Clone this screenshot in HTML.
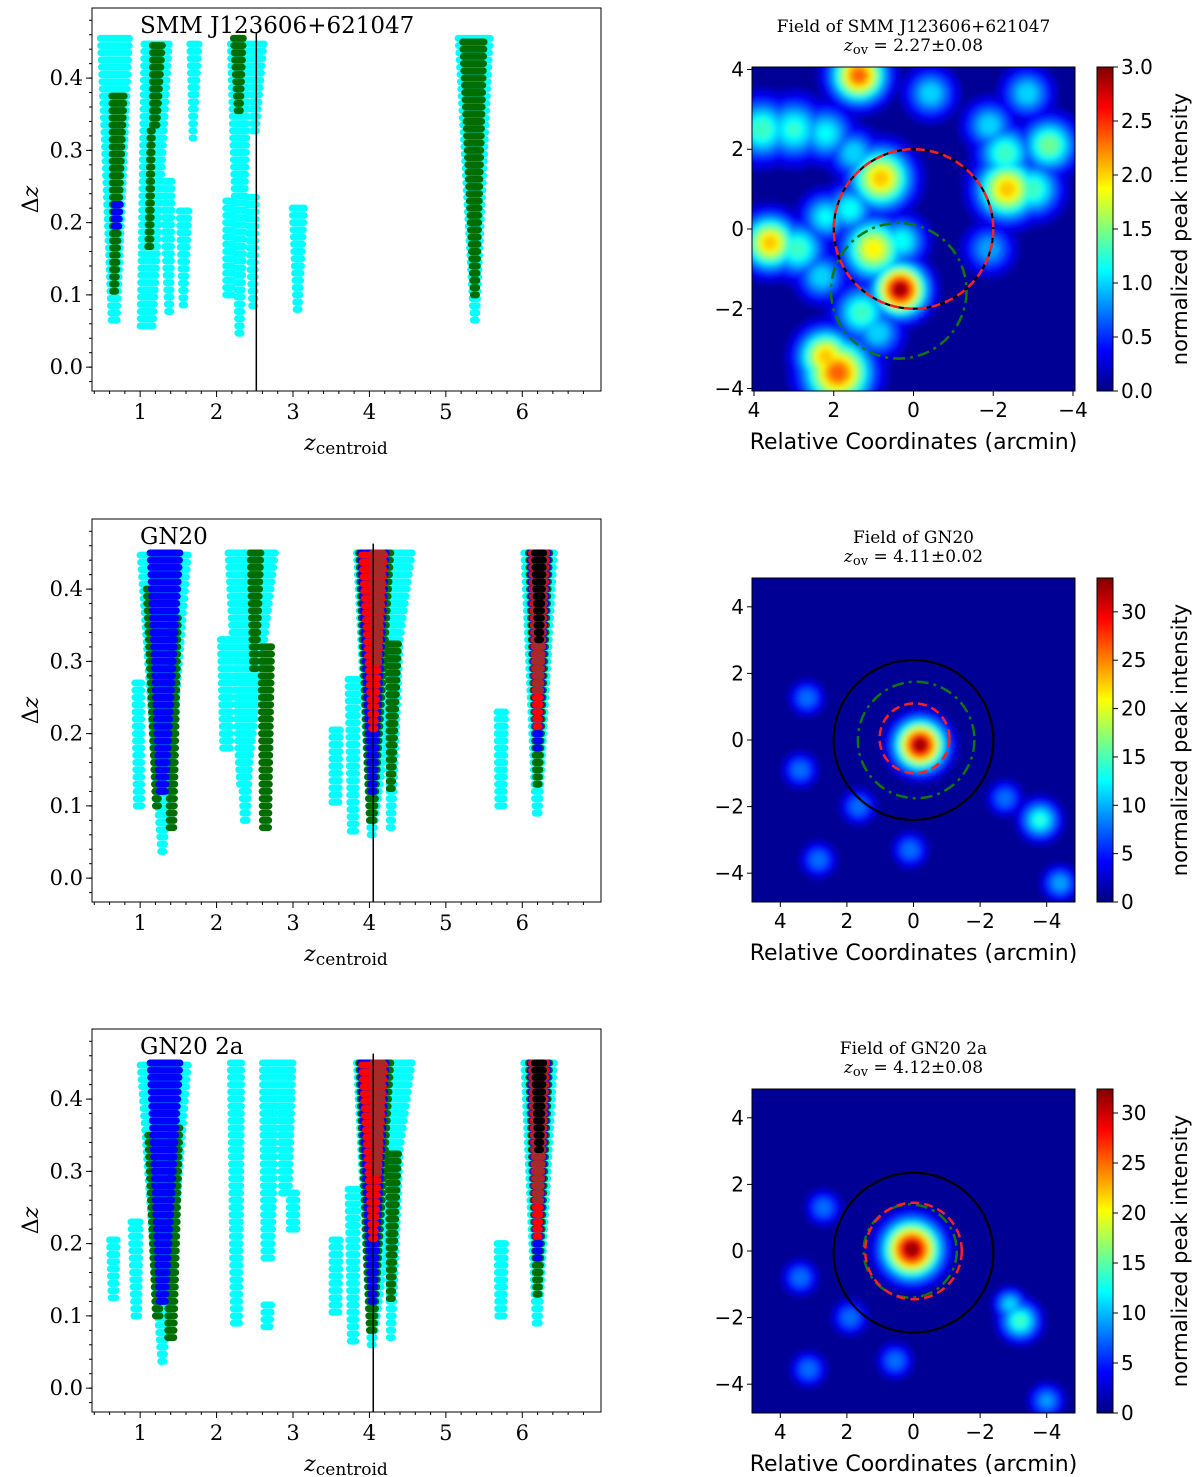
<!DOCTYPE html>
<html><head><meta charset="utf-8"><style>
html,body{margin:0;padding:0;background:#fff;}
svg{display:block;}
.serif{font-family:"DejaVu Serif","Liberation Serif",serif;}
.sans{font-family:"DejaVu Sans","Liberation Sans",sans-serif;}
</style></head><body>
<svg id="fig" width="1200" height="1477" viewBox="0 0 1200 1477" xmlns="http://www.w3.org/2000/svg">
<defs>
<filter id="blur" x="-10%" y="-10%" width="120%" height="120%"><feGaussianBlur stdDeviation="3"/></filter>
<linearGradient id="jetgrad" x1="0" y1="1" x2="0" y2="0">
<stop offset="0" stop-color="#000080"/><stop offset="0.125" stop-color="#0000ff"/><stop offset="0.375" stop-color="#00ffff"/><stop offset="0.625" stop-color="#ffff00"/><stop offset="0.875" stop-color="#ff0000"/><stop offset="1" stop-color="#800000"/>
</linearGradient>
</defs>
</svg>
<script>
const panel1Segments = [
 [0.48,0.86,0.62,0.70,0.45,0.065,'c'],[0.63,0.79,0.64,0.68,0.375,0.105,'g'],[0.66,0.74,0.66,0.72,0.225,0.195,'b'],
 [1.05,1.38,1.00,1.17,0.45,0.057,'c'],[1.29,1.42,1.36,1.40,0.26,0.077,'c'],[1.51,1.64,1.55,1.58,0.217,0.086,'c'],
 [1.65,1.77,1.68,1.70,0.45,0.317,'c'],[1.16,1.29,1.16,1.22,0.45,0.335,'g'],[1.13,1.16,1.10,1.14,0.33,0.167,'g'],
 [2.18,2.43,2.28,2.32,0.45,0.047,'c'],[2.12,2.22,2.12,2.20,0.23,0.10,'c'],[2.43,2.62,2.47,2.52,0.45,0.327,'c'],
 [2.40,2.52,2.46,2.50,0.23,0.085,'c'],[2.22,2.35,2.27,2.31,0.45,0.355,'g'],[2.99,3.15,3.04,3.08,0.215,0.08,'c'],
 [5.16,5.58,5.36,5.40,0.45,0.065,'c'],[5.22,5.50,5.36,5.40,0.45,0.10,'g']
];
const panel2Segments = [
 [1.00,1.63,1.27,1.31,0.45,0.037,'c'],[0.93,1.02,0.95,1.02,0.27,0.10,'c'],[1.13,1.52,1.25,1.33,0.45,0.12,'b'],
 [1.38,1.50,1.38,1.44,0.36,0.07,'g'],[1.08,1.15,1.20,1.24,0.40,0.10,'g'],
 [2.15,2.77,2.30,2.40,0.45,0.13,'c'],[2.05,2.20,2.08,2.18,0.33,0.18,'c'],[2.30,2.45,2.35,2.40,0.20,0.08,'c'],
 [2.44,2.58,2.47,2.52,0.45,0.29,'g'],[2.58,2.72,2.60,2.68,0.32,0.07,'g'],
 [3.83,4.56,4.01,4.05,0.45,0.06,'c'],[3.51,3.62,3.51,3.60,0.20,0.105,'c'],[3.72,3.85,3.75,3.82,0.275,0.065,'c'],
 [4.25,4.40,4.26,4.30,0.32,0.07,'c'],[3.86,4.28,4.00,4.06,0.45,0.08,'g'],[4.25,4.38,4.26,4.30,0.32,0.124,'g'],
 [3.88,4.22,4.02,4.06,0.45,0.12,'b'],[3.90,4.20,4.03,4.07,0.45,0.207,'r'],[4.04,4.18,4.06,4.12,0.45,0.30,'d'],
 [5.67,5.78,5.68,5.76,0.23,0.10,'c'],[6.02,6.42,6.17,6.22,0.45,0.09,'c'],[6.08,6.36,6.18,6.22,0.45,0.13,'g'],
 [6.10,6.34,6.18,6.22,0.45,0.18,'b'],[6.12,6.32,6.18,6.22,0.45,0.21,'r'],[6.14,6.30,6.18,6.24,0.45,0.26,'d'],
 [6.16,6.28,6.20,6.24,0.45,0.33,'k']
];
const panel3Segments = [
 [1.00,1.63,1.27,1.31,0.45,0.037,'c'],[0.88,1.00,0.92,0.98,0.23,0.10,'c'],[0.60,0.70,0.62,0.68,0.21,0.125,'c'],
 [1.13,1.52,1.25,1.33,0.45,0.12,'b'],[1.38,1.52,1.36,1.44,0.36,0.07,'g'],[1.10,1.18,1.20,1.26,0.35,0.10,'g'],
 [2.18,2.33,2.22,2.30,0.45,0.09,'c'],[2.60,2.80,2.62,2.72,0.45,0.18,'c'],[2.80,3.00,2.85,2.95,0.45,0.27,'c'],
 [2.95,3.05,2.95,3.05,0.27,0.22,'c'],[2.62,2.72,2.62,2.70,0.12,0.085,'c'],
 [3.83,4.56,4.01,4.05,0.45,0.06,'c'],[3.51,3.62,3.51,3.60,0.20,0.105,'c'],[3.72,3.85,3.75,3.82,0.275,0.065,'c'],
 [4.25,4.40,4.26,4.30,0.32,0.07,'c'],[3.86,4.28,4.00,4.06,0.45,0.08,'g'],[4.25,4.38,4.26,4.30,0.32,0.124,'g'],
 [3.88,4.22,4.02,4.06,0.45,0.12,'b'],[3.90,4.20,4.03,4.07,0.45,0.207,'r'],[4.04,4.18,4.06,4.12,0.45,0.30,'d'],
 [5.67,5.78,5.68,5.76,0.20,0.10,'c'],[6.02,6.42,6.17,6.22,0.45,0.09,'c'],[6.08,6.36,6.18,6.22,0.45,0.13,'g'],
 [6.10,6.34,6.18,6.22,0.45,0.18,'b'],[6.12,6.32,6.18,6.22,0.45,0.21,'r'],[6.14,6.30,6.18,6.24,0.45,0.26,'d'],
 [6.16,6.28,6.20,6.24,0.45,0.33,'k']
];
const panelTitles = ['SMM J123606+621047','GN20','GN20 2a'];
const vlineZ = [2.52, 4.05, 4.05];
const xTickLabels = [1,2,3,4,5,6];
const yTickLabels = [0.0,0.1,0.2,0.3,0.4];

const hm1X=[1.37,-0.43,-2.85,3.8,3.0,2.2,1.5,0.82,-2.35,-3.4,-2.3,-3.0,-1.9,3.6,2.9,2.2,1.0,0.3,0.33,1.3,1.9,2.2,-1.9,1.6,2.3,0.9];
const hm1Y=[3.85,3.4,3.4,2.5,2.5,2.4,1.9,1.27,1.0,2.1,1.9,1.0,2.6,-0.35,-0.5,0.3,-0.5,-0.3,-1.52,-2.1,-3.6,-3.2,-0.5,0.5,-1.2,-2.6];
const hm1S=[0.45,0.4,0.4,0.5,0.5,0.45,0.4,0.5,0.5,0.45,0.45,0.45,0.4,0.45,0.45,0.4,0.5,0.4,0.42,0.45,0.55,0.45,0.4,0.4,0.4,0.4];
const hm1P=[0.8,0.35,0.35,0.45,0.42,0.38,0.35,0.7,0.7,0.5,0.45,0.45,0.35,0.7,0.45,0.38,0.65,0.4,1.0,0.45,0.8,0.7,0.3,0.4,0.35,0.35];
const hm2X=[-0.2,3.2,3.4,1.65,2.85,0.1,-2.75,-3.8,-4.4];
const hm2Y=[-0.15,1.26,-0.9,-2.0,-3.6,-3.3,-1.75,-2.4,-4.3];
const hm2S=[0.48,0.33,0.33,0.33,0.33,0.33,0.33,0.38,0.33];
const hm2P=[1.0,0.25,0.25,0.25,0.25,0.25,0.25,0.42,0.3];
const hm3X=[0.05,2.7,3.4,1.9,3.15,0.55,-3.2,-2.9,-4.0];
const hm3Y=[0.05,1.3,-0.8,-2.0,-3.55,-3.3,-2.1,-1.6,-4.5];
const hm3S=[0.55,0.33,0.33,0.33,0.33,0.33,0.38,0.3,0.33];
const hm3P=[1.0,0.25,0.25,0.25,0.25,0.25,0.45,0.35,0.28];
const cbarTicks1=[0.0,0.5,1.0,1.5,2.0,2.5,3.0];
const cbarTicks2=[0,5,10,15,20,25,30];
const cbarTicks3=[0,5,10,15,20,25,30];
const hmTitles=['Field of SMM J123606+621047','Field of GN20','Field of GN20 2a'];
const hmZov=['2.27±0.08','4.11±0.02','4.12±0.08'];

const NS='http://www.w3.org/2000/svg';
const svg=document.getElementById('fig');
function mk(tag,attrs,parent){const e=document.createElementNS(NS,tag);for(const k in attrs)e.setAttribute(k,attrs[k]);(parent||svg).appendChild(e);return e;}
const COL={c:'#00ffff',g:'#006d00',b:'#0000ff',r:'#ff0000',d:'#a52a2a',k:'#000000'};
const ORDER=['c','g','b','r','d','k'];

function scatterPanel(i,segs,top){
  const X0=92,X1=601,Y0=top,Y1=top+383;
  const zmin=0.37,zmax=7.03,dmin=-0.033,dmax=0.497;
  const px=z=>X0+(z-zmin)/(zmax-zmin)*(X1-X0);
  const py=d=>Y1-(d-dmin)/(dmax-dmin)*(Y1-Y0);
  const g=mk('g',{});
  
  
  const marks=mk('g',{},g);
  
  
  ORDER.forEach(c=>{
    segs.filter(s=>s[6]===c).forEach(s=>{
      const [tl,tr,bl,br,dt,db]=s;
      const n=Math.round((dt-db)/0.01);
      for(let k=0;k<=n;k++){
        const d=db+k*0.01, t=n?k/n:1;
        const zl=bl+t*(tl-bl), zr=br+t*(tr-br);
        const r=mk('rect',{x:px(zl)-3.5,y:py(d)-3.5,width:px(zr)-px(zl)+7,height:7,rx:3.5,fill:COL[c]},marks);
        
        
      }
    });
  });
  const vl=mk('line',{x1:px(vlineZ[i]),x2:px(vlineZ[i]),y1:py(0.463),y2:Y1,stroke:'#000','stroke-width':1.5},g);
  
  
  const fr=mk('rect',{x:X0,y:Y0,width:X1-X0,height:Y1-Y0,fill:'none',stroke:'#000','stroke-width':1},g);
  
  
  for(let z=0.4;z<=7.0;z+=0.2){const x=px(z);const maj=Math.abs(z-Math.round(z))<0.01;mk('line',{x1:x,x2:x,y1:Y1,y2:Y1+(maj?6:3),stroke:'#000'},g);}
  xTickLabels.forEach(v=>{const t=mk('text',{x:px(v),y:Y1+28,'text-anchor':'middle','font-size':21,class:'serif'},g);t.textContent=v;
    });
  for(let d=-0.02;d<=0.49;d+=0.02){mk('line',{x1:X0,x2:X0-3,y1:py(d),y2:py(d),stroke:'#000'},g);}
  yTickLabels.forEach(v=>{mk('line',{x1:X0,x2:X0-6,y1:py(v),y2:py(v),stroke:'#000'},g);
    const t=mk('text',{x:X0-9,y:py(v)+7,'text-anchor':'end','font-size':21,class:'serif'},g);t.textContent=v.toFixed(1);
    });
  const xl=mk('text',{x:346,y:Y1+59,'text-anchor':'middle','font-size':22,class:'serif','font-style':'italic'},g);
  xl.innerHTML='z<tspan font-size="17" font-style="normal" dy="4">centroid</tspan>';
  
  const yl=mk('text',{x:0,y:0,transform:`translate(38,${(Y0+Y1)/2}) rotate(-90)`,'text-anchor':'middle','font-size':22,class:'serif'},g);
  yl.innerHTML='Δ<tspan font-style="italic">z</tspan>';
  
  const tt=mk('text',{x:140,y:Y0+25,'font-size':23,class:'serif'},g);tt.textContent=panelTitles[i];
  
}
scatterPanel(0,panel1Segments,8);
scatterPanel(1,panel2Segments,519);
scatterPanel(2,panel3Segments,1029);

function jet(v){const cl=x=>Math.max(0,Math.min(1,x));
  const r=cl(1.5-Math.abs(4*v-3)),g=cl(1.5-Math.abs(4*v-2)),b=cl(1.5-Math.abs(4*v-1));
  return `rgb(${Math.round(r*255)},${Math.round(g*255)},${Math.round(b*255)})`;}

function heatPanel(i,top,ext,BX,BY,BS,BP,cticks,cmax,circles){
  const X0=752,X1=1075,Y0=top,Y1=top+324,cx=(X0+X1)/2,cy=(Y0+Y1)/2;
  const sc=(X1-X0)/(2*ext);
  const hx=v=>cx-v*sc, hy=v=>cy-v*sc;
  const g=mk('g',{});
  
  
  const cp=mk('clipPath',{id:'clip'+i},g);mk('rect',{x:X0,y:Y0,width:X1-X0,height:Y1-Y0},cp);
  const img=mk('g',{'clip-path':`url(#clip${i})`},g);
  
  mk('rect',{x:X0,y:Y0,width:X1-X0,height:Y1-Y0,fill:jet(0.02)},img);
  const bl=mk('g',{filter:'url(#blur)'},img);
  const items=[];
  BX.forEach((x,k)=>{for(let l=0.05;l<BP[k];l+=0.05){items.push([l,k]);}});
  items.sort((a,b)=>a[0]-b[0]);
  items.forEach(([l,k])=>{const r=BS[k]*sc*Math.sqrt(2*Math.log(BP[k]/l));
    const c=mk('circle',{cx:hx(BX[k]),cy:hy(BY[k]),r:r,fill:jet(l+0.03)},bl);
    });
  circles.forEach(c=>{const e=mk('circle',{cx:hx(c.x),cy:hy(c.y),r:c.r*sc,fill:'none',stroke:c.col,'stroke-width':c.w,'stroke-dasharray':c.dash||'none'},g);
    });
  mk('rect',{x:X0,y:Y0,width:X1-X0,height:Y1-Y0,fill:'none',stroke:'#000'},g);
  [4,2,0,-2,-4].forEach(v=>{
    mk('line',{x1:hx(v),x2:hx(v),y1:Y1,y2:Y1+5,stroke:'#000'},g);
    const t=mk('text',{x:hx(v),y:Y1+26,'text-anchor':'middle','font-size':20,class:'sans'},g);t.textContent=(v<0?'−':'')+Math.abs(v);
    
    mk('line',{x1:X0,x2:X0-5,y1:hy(v),y2:hy(v),stroke:'#000'},g);
    const u=mk('text',{x:X0-8,y:hy(v)+7,'text-anchor':'end','font-size':20,class:'sans'},g);u.textContent=(v<0?'−':'')+Math.abs(v);
    
  });
  const xl=mk('text',{x:cx,y:Y1+58,'text-anchor':'middle','font-size':22,class:'sans'},g);xl.textContent='Relative Coordinates (arcmin)';
  
  const t1=mk('text',{x:cx,y:Y0-35,'text-anchor':'middle','font-size':17,class:'serif'},g);t1.textContent=hmTitles[i];
  
  const t2=mk('text',{x:cx,y:Y0-16,'text-anchor':'middle','font-size':17,class:'serif'},g);
  t2.innerHTML='<tspan font-style="italic">z</tspan><tspan font-size="13" dy="3">ov</tspan><tspan dy="-3"> = '+hmZov[i]+'</tspan>';
  
  const cb=mk('rect',{x:1097,y:Y0,width:16,height:Y1-Y0,fill:'url(#jetgrad)',stroke:'#000'},g);
  
  cticks.forEach(v=>{const y=Y1-v/cmax*(Y1-Y0);
    mk('line',{x1:1113,x2:1118,y1:y,y2:y,stroke:'#000'},g);
    const t=mk('text',{x:1121,y:y+7,'font-size':20,class:'sans'},g);t.textContent=(cmax<5?v.toFixed(1):v);
    });
  const cl=mk('text',{x:0,y:0,transform:`translate(1187,${(Y0+Y1)/2}) rotate(-90)`,'text-anchor':'middle','font-size':21,class:'sans'},g);
  cl.textContent='normalized peak intensity';
  
}
heatPanel(0,67,4.05,hm1X,hm1Y,hm1S,hm1P,cbarTicks1,3.0,[
 {x:0,y:0,r:2.0,col:'#000',w:2.2,name:'search-radius-circle'},
 {x:0,y:0,r:2.0,col:'#ff2020',w:2.5,dash:'9,5',name:'overdensity-circle'},
 {x:0.37,y:-1.55,r:1.7,col:'#117711',w:2.5,dash:'12,5,3,5',name:'group-circle'}]);
heatPanel(1,578,4.85,hm2X,hm2Y,hm2S,hm2P,cbarTicks2,33.5,[
 {x:0,y:0,r:2.4,col:'#000',w:2.2,name:'search-radius-circle'},
 {x:-0.08,y:0,r:1.75,col:'#117711',w:2.5,dash:'12,5,3,5',name:'group-circle'},
 {x:-0.03,y:0.05,r:1.05,col:'#ff2020',w:2.5,dash:'9,5',name:'overdensity-circle'}]);
heatPanel(2,1089,4.85,hm3X,hm3Y,hm3S,hm3P,cbarTicks3,32.4,[
 {x:0,y:-0.05,r:2.4,col:'#000',w:2.2,name:'search-radius-circle'},
 {x:0.1,y:0,r:1.4,col:'#117711',w:2.5,dash:'12,5,3,5',name:'group-circle'},
 {x:0,y:0,r:1.45,col:'#ff2020',w:2.5,dash:'9,5',name:'overdensity-circle'}]);
</script>
</body></html>
